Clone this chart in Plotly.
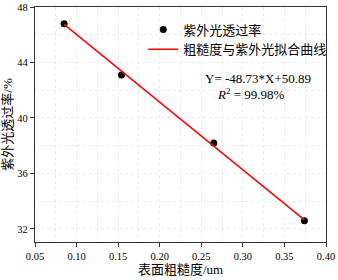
import plotly.graph_objects as go

roughness = [0.085, 0.154, 0.265, 0.374]
uv_trans = [46.8, 43.1, 38.2, 32.6]
fit_x = [0.085, 0.374]
fit_y = [46.75, 32.66]
x_ticks = [0.05, 0.10, 0.15, 0.20, 0.25, 0.30, 0.35, 0.40]
y_ticks = [32, 36, 40, 44, 48]

serif = "Liberation Serif, Times New Roman, serif"
cjk = "Liberation Serif, Noto Sans CJK SC, serif"

fig = go.Figure()
fig.add_trace(go.Scatter(x=roughness, y=uv_trans, mode="markers",
                         marker=dict(color="black", size=7),
                         name="紫外光透过率"))
fig.add_trace(go.Scatter(x=fit_x, y=fit_y, mode="lines",
                         line=dict(color="#ff0000", width=1.5),
                         name="粗糙度与紫外光拟合曲线"))

grid_col = "#ebebeb"
axis_common = dict(showline=True, linecolor="#333", linewidth=1.2, mirror=True,
                   ticks="outside", ticklen=4, tickcolor="#333",
                   showgrid=True, gridcolor=grid_col, griddash="dot", gridwidth=1,
                   zeroline=False, tickfont=dict(family=serif, size=10.5, color="black"))

fig.update_xaxes(range=[0.05, 0.40], tickvals=x_ticks,
                 ticktext=[f"{v:.2f}" for v in x_ticks],
                 minor=dict(dtick=0.025, tick0=0.05, showgrid=True, gridcolor=grid_col, griddash="dot", ticks=""),
                 title=dict(text="表面粗糙度/um", font=dict(family=cjk, size=13, color="black"), standoff=2),
                 **axis_common)
fig.update_yaxes(range=[31.06, 48], tickvals=y_ticks,
                 minor=dict(dtick=2, tick0=32, showgrid=True, gridcolor=grid_col, griddash="dot", ticks=""),
                 title=dict(text="紫外光透过率/%", font=dict(family=cjk, size=13, color="black"), standoff=6),
                 **axis_common)

fig.add_annotation(x=0.765, y=0.694, xref="paper", yref="paper", showarrow=False,
                   xanchor="center", yanchor="middle",
                   text="Y= -48.73*X+50.89", font=dict(family=serif, size=13, color="black"))
fig.add_annotation(x=0.742, y=0.63, xref="paper", yref="paper", showarrow=False,
                   xanchor="center", yanchor="middle",
                   text="<i>R</i><sup>2</sup> = 99.98%", font=dict(family=serif, size=13, color="black"))

fig.update_layout(width=338, height=280,
                  margin=dict(l=35, r=12, t=7, b=38, autoexpand=False),
                  plot_bgcolor="white", paper_bgcolor="white",
                  legend=dict(x=0.372, y=0.968, xanchor="left", yanchor="top",
                              bgcolor="rgba(0,0,0,0)", font=dict(family=cjk, size=13, color="black"),
                              itemwidth=30, tracegroupgap=0),
                  showlegend=True)

fig.write_html("out.html", config={"displayModeBar": False},
               post_script="document.body.style.margin='0';document.body.style.overflow='hidden';")
